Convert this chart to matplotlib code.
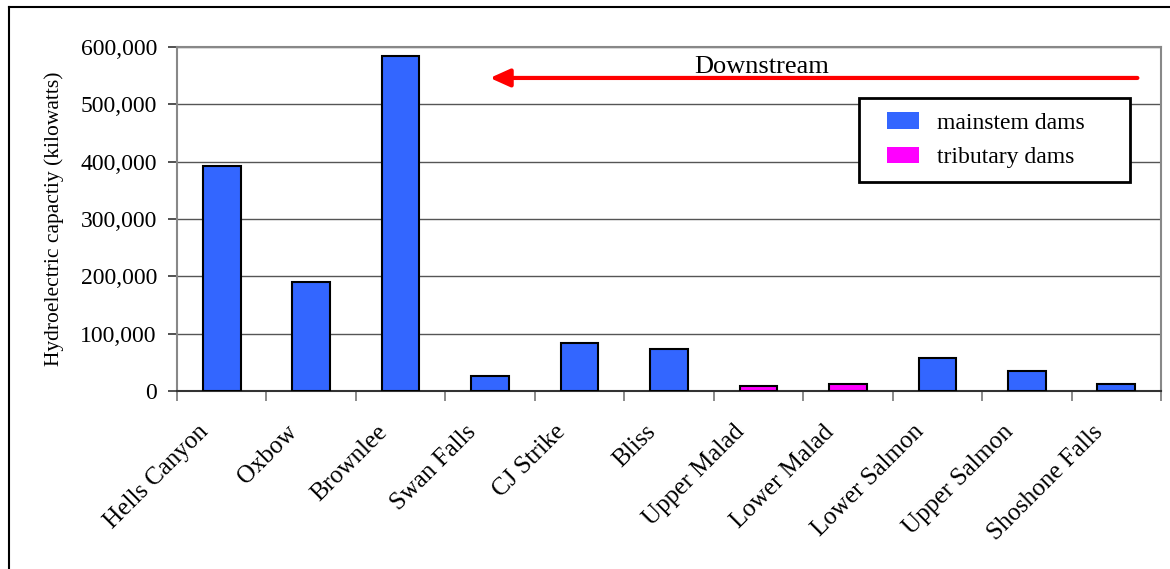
import matplotlib.pyplot as plt
import matplotlib.transforms as mtransforms
from matplotlib.patches import Patch, Rectangle
from matplotlib.legend_handler import HandlerPatch
from matplotlib.lines import Line2D
from matplotlib.ticker import FuncFormatter

# Datos: capacidad hidroelectrica por presa (kW)
presas = ['Hells Canyon', 'Oxbow', 'Brownlee', 'Swan Falls', 'CJ Strike', 'Bliss',
          'Upper Malad', 'Lower Malad', 'Lower Salmon', 'Upper Salmon', 'Shoshone Falls']
capacidad = [392000, 190500, 584500, 25500, 84000, 74000, 9300, 12700, 58000, 35500, 12700]
tipo = ['main', 'main', 'main', 'main', 'main', 'main',
        'trib', 'trib', 'main', 'main', 'main']

azul = '#3366FF'
magenta = '#FF00FF'
colores = [azul if t == 'main' else magenta for t in tipo]

plt.rcParams['font.family'] = ['Liberation Serif', 'DejaVu Serif']

fig = plt.figure(figsize=(11.7, 5.69), dpi=100)
ax = fig.add_axes([0.1513, 0.3128, 0.841, 0.6046])

x = range(len(presas))
ax.bar(x, capacidad, width=0.42, color=colores, edgecolor='black', linewidth=1.5, zorder=3)

ax.set_xlim(-0.5, len(presas) - 0.5)
ax.set_ylim(0, 600000)
ax.set_yticks(range(0, 600001, 100000))
ax.yaxis.set_major_formatter(FuncFormatter(lambda v, p: '{:,.0f}'.format(v)))
ax.yaxis.grid(True, color='#555555', linewidth=1.0, zorder=0)

# ticks del eje x entre categorias
ax.set_xticks([i - 0.5 for i in range(len(presas) + 1)])
ax.set_xticklabels([])
ax.set_xticks(list(x), minor=True)
ax.set_xticklabels(presas, minor=True, rotation=45, ha='right', va='center',
                   rotation_mode='anchor', fontsize=18)
ax.tick_params(axis='x', which='minor', length=0, pad=27)
ax.tick_params(axis='x', which='major', length=7, color='#777777', width=1.2)
ax.tick_params(axis='y', labelsize=17, length=6.5, color='#333333', width=1.2, pad=8)

# mover etiquetas un poco a la izquierda (como en Excel)
desplaza = mtransforms.ScaledTranslation(-17 / 100, 0, fig.dpi_scale_trans)
for lab in ax.get_xticklabels(minor=True):
    lab.set_transform(lab.get_transform() + desplaza)

for s in ['top', 'right', 'left']:
    ax.spines[s].set_color('#888888')
    ax.spines[s].set_linewidth(1.5)
ax.spines['bottom'].set_color('#333333')
ax.spines['bottom'].set_linewidth(1.5)

ax.set_ylabel('Hydroelectric capactiy (kilowatts)', fontsize=15.5, labelpad=12)

# flecha "Downstream"
ax.annotate('', xy=(0.318, 0.91), xytext=(0.976, 0.91), xycoords='axes fraction',
            arrowprops=dict(arrowstyle='-|>,head_length=0.6,head_width=0.27', color='#FF0000',
                            lw=3, mutation_scale=20, shrinkA=0, shrinkB=0), zorder=5)
ax.text(0.5945, 0.942, 'Downstream', transform=ax.transAxes, ha='center', va='center',
        fontsize=19, zorder=5)


def cuadro(legend, orig_handle, xdescent, ydescent, width, height, fontsize):
    w = width * 0.7
    return Rectangle((-xdescent + width - w, -ydescent), w, height)


handles = [Patch(facecolor=azul, edgecolor='none', label='mainstem dams'),
           Patch(facecolor=magenta, edgecolor='none', label='tributary dams')]
leg = ax.legend(handles=handles, loc='upper left', bbox_to_anchor=(0.693, 0.605, 0.2755, 0.247),
                mode='expand', fontsize=17, frameon=True, fancybox=False, framealpha=1,
                edgecolor='black', borderpad=0.6, labelspacing=0.55,
                handlelength=1.95, handleheight=0.7, handletextpad=0.75, borderaxespad=0,
                handler_map={Patch: HandlerPatch(patch_func=cuadro)})
leg.get_frame().set_linewidth(2)
leg.set_zorder(6)

# marco exterior (solo izquierda y arriba visibles)
fig.add_artist(Line2D([9 / 1170, 9 / 1170], [0, 1 - 7 / 569], color='black', lw=1.5))
fig.add_artist(Line2D([9 / 1170, 1], [1 - 7 / 569, 1 - 7 / 569], color='black', lw=1.5))

fig.savefig('out.png', dpi=100)
